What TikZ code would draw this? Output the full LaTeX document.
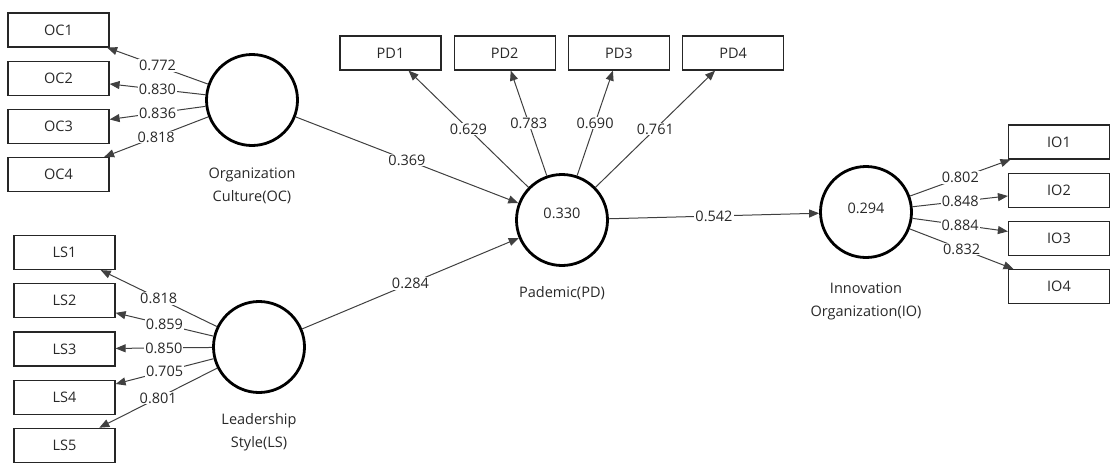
\documentclass[tikz,border=0pt]{standalone}
\usepackage{fontspec}
\setmainfont{Open Sans}
\usepackage{tikz}
\usetikzlibrary{arrows.meta, positioning}
\definecolor{pathgray}{RGB}{64,64,64}
\definecolor{textgray}{RGB}{40,40,40}

\begin{document}
\begin{tikzpicture}[
  x=1pt, y=-1pt,
  node distance=13pt and 12pt,
  font=\fontsize{14.5}{23}\selectfont,
  item/.style={rectangle, draw=black!85, line width=1.2pt, minimum width=101pt,
               minimum height=34pt, inner sep=0pt, text=textgray},
  latent/.style={circle, draw=black, line width=2.8pt, minimum size=91pt, inner sep=0pt},
  caption/.style={align=center, text=textgray},
  path/.style={-{Triangle[length=10pt,width=8pt]}, line width=1pt, color=pathgray},
  val/.style={fill=white, inner sep=1pt, text=textgray},
]
  \useasboundingbox (0,0) rectangle (1113,469);

  % constructs
  \node[latent] (oc) at (252,100) {};
  \node[latent] (ls) at (259,347) {};
  \node[latent, label={[yshift=7pt,text=textgray]center:0.330}] (pd) at (562,220) {};
  \node[latent, label={[yshift=4pt,text=textgray]center:0.294}] (io) at (866,212) {};

  \node[caption, below=17pt of oc] (ocname) {Organization\\Culture(OC)};
  \node[caption, below=16pt of ls] (lsname) {Leadership\\Style(LS)};
  \node[caption, below=16pt of pd] (pdname) {Pademic(PD)};
  \node[caption, below=20pt of io] (ioname) {Innovation\\Organization(IO)};

  % indicators
  \node[item] (oc1) at (58.5,30) {OC1};
  \node[item, below=of oc1] (oc2) {OC2};
  \node[item, below=of oc2] (oc3) {OC3};
  \node[item, below=of oc3] (oc4) {OC4};

  \node[item] (ls1) at (64.5,252.5) {LS1};
  \node[item, below=of ls1] (ls2) {LS2};
  \node[item, below=of ls2] (ls3) {LS3};
  \node[item, below=of ls3] (ls4) {LS4};
  \node[item, below=of ls4] (ls5) {LS5};

  \node[item] (pd1) at (390.5,53) {PD1};
  \node[item, right=of pd1] (pd2) {PD2};
  \node[item, right=of pd2] (pd3) {PD3};
  \node[item, right=of pd3] (pd4) {PD4};

  \node[item] (io1) at (1059,142) {IO1};
  \node[item, below=of io1] (io2) {IO2};
  \node[item, below=of io2] (io3) {IO3};
  \node[item, below=of io3] (io4) {IO4};

  % outer loadings
  \draw[path] (oc) -- node[val]{0.772} (oc1);
  \draw[path] (oc) -- node[val]{0.830} (oc2);
  \draw[path] (oc) -- node[val]{0.836} (oc3);
  \draw[path] (oc) -- node[val]{0.818} (oc4);

  \draw[path] (ls) -- node[val]{0.818} (ls1);
  \draw[path] (ls) -- node[val]{0.859} (ls2);
  \draw[path] (ls) -- node[val]{0.850} (ls3);
  \draw[path] (ls) -- node[val]{0.705} (ls4);
  \draw[path] (ls) -- node[val]{0.801} (ls5);

  \draw[path] (pd) -- node[val]{0.629} (pd1);
  \draw[path] (pd) -- node[val]{0.783} (pd2);
  \draw[path] (pd) -- node[val]{0.690} (pd3);
  \draw[path] (pd) -- node[val]{0.761} (pd4);

  \draw[path] (io) -- node[val]{0.802} (io1);
  \draw[path] (io) -- node[val]{0.848} (io2);
  \draw[path] (io) -- node[val]{0.884} (io3);
  \draw[path] (io) -- node[val]{0.832} (io4);

  % path coefficients
  \draw[path] (oc) -- node[val]{0.369} (pd);
  \draw[path] (ls) -- node[val]{0.284} (pd);
  \draw[path] (pd) -- node[val]{0.542} (io);
\end{tikzpicture}
\end{document}
